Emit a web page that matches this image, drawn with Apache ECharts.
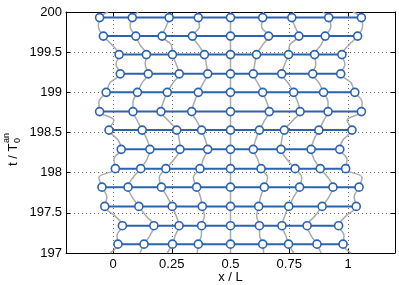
<!DOCTYPE html>
<html style="height: 100%">
<head>
<meta charset="utf-8">
<script src="https://cdn.jsdelivr.net/npm/echarts@6/dist/echarts.min.js"></script>
</head>
<body style="height: 100%; margin: 0; background: #fff">
<div id="container" style="width: 399px; height: 285px"></div>
<script type="text/javascript">
// sample times of the gray traces (rows sit at the odd indices)
var traceT = [200, 199.93, 199.82, 199.70, 199.59, 199.47, 199.35, 199.23, 199.12, 199.00, 198.88, 198.76, 198.65,
    198.53, 198.41, 198.29, 198.17, 198.05, 197.94, 197.82, 197.70, 197.58, 197.46, 197.34, 197.22, 197.11, 197];
var rowIdx = [1, 3, 5, 7, 9, 11, 13, 15, 17, 19, 21, 23, 25];

// particle positions x/L over time
var p0 = [-0.021, -0.057, -0.062, -0.041, -0.004, 0.026, 0.013, 0.031, -0.013, -0.029, -0.060, -0.057, 0.004, -0.017, 0.021, 0.035, 0.004, 0.010, -0.060, -0.047, -0.026, -0.035, 0.009, 0.040, 0.017, 0.021, -0.013];
var p1 = [0.107, 0.082, 0.073, 0.097, 0.115, 0.142, 0.137, 0.150, 0.124, 0.104, 0.085, 0.085, 0.103, 0.124, 0.145, 0.157, 0.145, 0.118, 0.085, 0.064, 0.081, 0.110, 0.141, 0.174, 0.158, 0.132, 0.115];
var p2 = [0.231, 0.239, 0.226, 0.209, 0.248, 0.253, 0.269, 0.282, 0.256, 0.231, 0.214, 0.204, 0.235, 0.271, 0.282, 0.285, 0.261, 0.225, 0.197, 0.206, 0.231, 0.252, 0.269, 0.281, 0.265, 0.253, 0.231];
var p3 = [0.359, 0.363, 0.368, 0.338, 0.363, 0.389, 0.397, 0.403, 0.385, 0.363, 0.346, 0.335, 0.355, 0.377, 0.393, 0.403, 0.385, 0.370, 0.342, 0.356, 0.372, 0.380, 0.389, 0.377, 0.376, 0.363, 0.359];
var p4 = [0.5, 0.5, 0.5, 0.5, 0.5, 0.5, 0.5, 0.5, 0.5, 0.5, 0.5, 0.5, 0.5, 0.5, 0.5, 0.5, 0.5, 0.5, 0.5, 0.5, 0.5, 0.5, 0.5, 0.5, 0.5, 0.5, 0.5];
var p5 = [0.641, 0.637, 0.632, 0.662, 0.637, 0.611, 0.603, 0.597, 0.615, 0.637, 0.654, 0.665, 0.645, 0.623, 0.607, 0.597, 0.615, 0.630, 0.658, 0.644, 0.628, 0.620, 0.611, 0.623, 0.624, 0.637, 0.641];
var p6 = [0.769, 0.761, 0.774, 0.791, 0.752, 0.747, 0.731, 0.718, 0.744, 0.769, 0.786, 0.796, 0.765, 0.729, 0.718, 0.715, 0.739, 0.775, 0.803, 0.794, 0.769, 0.748, 0.731, 0.719, 0.735, 0.747, 0.769];
var p7 = [0.893, 0.918, 0.927, 0.903, 0.885, 0.858, 0.863, 0.850, 0.876, 0.896, 0.915, 0.915, 0.897, 0.876, 0.855, 0.843, 0.855, 0.882, 0.915, 0.936, 0.919, 0.890, 0.859, 0.826, 0.842, 0.868, 0.885];
var p8 = [1.021, 1.057, 1.062, 1.041, 1.004, 0.974, 0.987, 0.969, 1.013, 1.029, 1.060, 1.057, 0.996, 1.017, 0.979, 0.965, 0.996, 0.990, 1.060, 1.047, 1.026, 1.035, 0.991, 0.960, 0.983, 0.979, 1.013];
var particles = [p0, p1, p2, p3, p4, p5, p6, p7, p8];

var xTicks = [0, 0.25, 0.5, 0.75, 1];

var blue = '#2b63b1';
var gray = '#ababab';
var font = 'Liberation Sans, Arial, sans-serif';

var series = [];
particles.forEach(function (p) {
    series.push({
        type: 'line', xAxisIndex: 0, yAxisIndex: 0,
        data: p.map(function (x, i) { return [x, traceT[i]]; }),
        showSymbol: false, smooth: 0.35, silent: true, z: 1,
        lineStyle: { color: gray, width: 1.5 }
    });
});
rowIdx.forEach(function (k) {
    series.push({
        type: 'line', xAxisIndex: 0, yAxisIndex: 0,
        data: particles.map(function (p) { return [p[k], traceT[k]]; }),
        symbol: 'circle', symbolSize: 8, z: 3,
        lineStyle: { color: blue, width: 2 },
        itemStyle: { color: '#fff', borderColor: blue, borderWidth: 1.6 }
    });
});

var chart = echarts.init(document.getElementById('container'));
chart.setOption({
    animation: false,
    grid: { left: 66, right: 4, top: 12, bottom: 32, containLabel: false, outerBoundsMode: 'none' },
    xAxis: [{
        type: 'value', position: 'bottom', min: -0.2, max: 1.2,
        name: 'x / L', nameLocation: 'middle', nameGap: 18, nameMoveOverlap: false,
        nameTextStyle: { fontFamily: font, fontSize: 13, color: '#000', verticalAlign: 'top' },
        axisLine: { show: true, onZero: false, lineStyle: { color: '#000', width: 1 } },
        axisTick: { show: true, inside: true, length: 4, customValues: xTicks, lineStyle: { color: '#000' } },
        axisLabel: { customValues: xTicks, margin: 5, fontFamily: font, fontSize: 13, color: '#000' },
        splitLine: { show: true, lineStyle: { color: '#666', type: [1, 3], width: 1 } }
    }, {
        type: 'value', position: 'top', min: -0.2, max: 1.2,
        axisLine: { show: true, onZero: false, lineStyle: { color: '#000', width: 1 } },
        axisTick: { show: true, inside: true, length: 4, customValues: xTicks, lineStyle: { color: '#000' } },
        axisLabel: { show: false },
        splitLine: { show: false }
    }],
    yAxis: [{
        type: 'value', position: 'left', min: 197, max: 200, interval: 0.5,
        axisLine: { show: true, onZero: false, lineStyle: { color: '#000', width: 1 } },
        axisTick: { show: true, inside: true, length: 4, lineStyle: { color: '#000' } },
        axisLabel: { margin: 4, fontFamily: font, fontSize: 13, color: '#000' },
        splitLine: { show: true, lineStyle: { color: '#666', type: [1, 3], width: 1 } }
    }, {
        type: 'value', position: 'right', min: 197, max: 200, interval: 0.5,
        axisLine: { show: true, onZero: false, lineStyle: { color: '#000', width: 1 } },
        axisTick: { show: true, inside: true, length: 4, lineStyle: { color: '#000' } },
        axisLabel: { show: false },
        splitLine: { show: false }
    }],
    graphic: [{
        type: 'group', x: 13, y: 166, rotation: Math.PI / 2,
        children: [
            { type: 'text', x: 0, y: 0, style: { text: 't / T', font: '13px ' + font, fill: '#000', verticalAlign: 'middle', align: 'left' } },
            { type: 'text', x: 23, y: -6, style: { text: 'an', font: '9px ' + font, fill: '#000', verticalAlign: 'middle', align: 'left' } },
            { type: 'text', x: 23, y: 5, style: { text: '0', font: '9px ' + font, fill: '#000', verticalAlign: 'middle', align: 'left' } }
        ]
    }],
    series: series
});
</script>
</body>
</html>
